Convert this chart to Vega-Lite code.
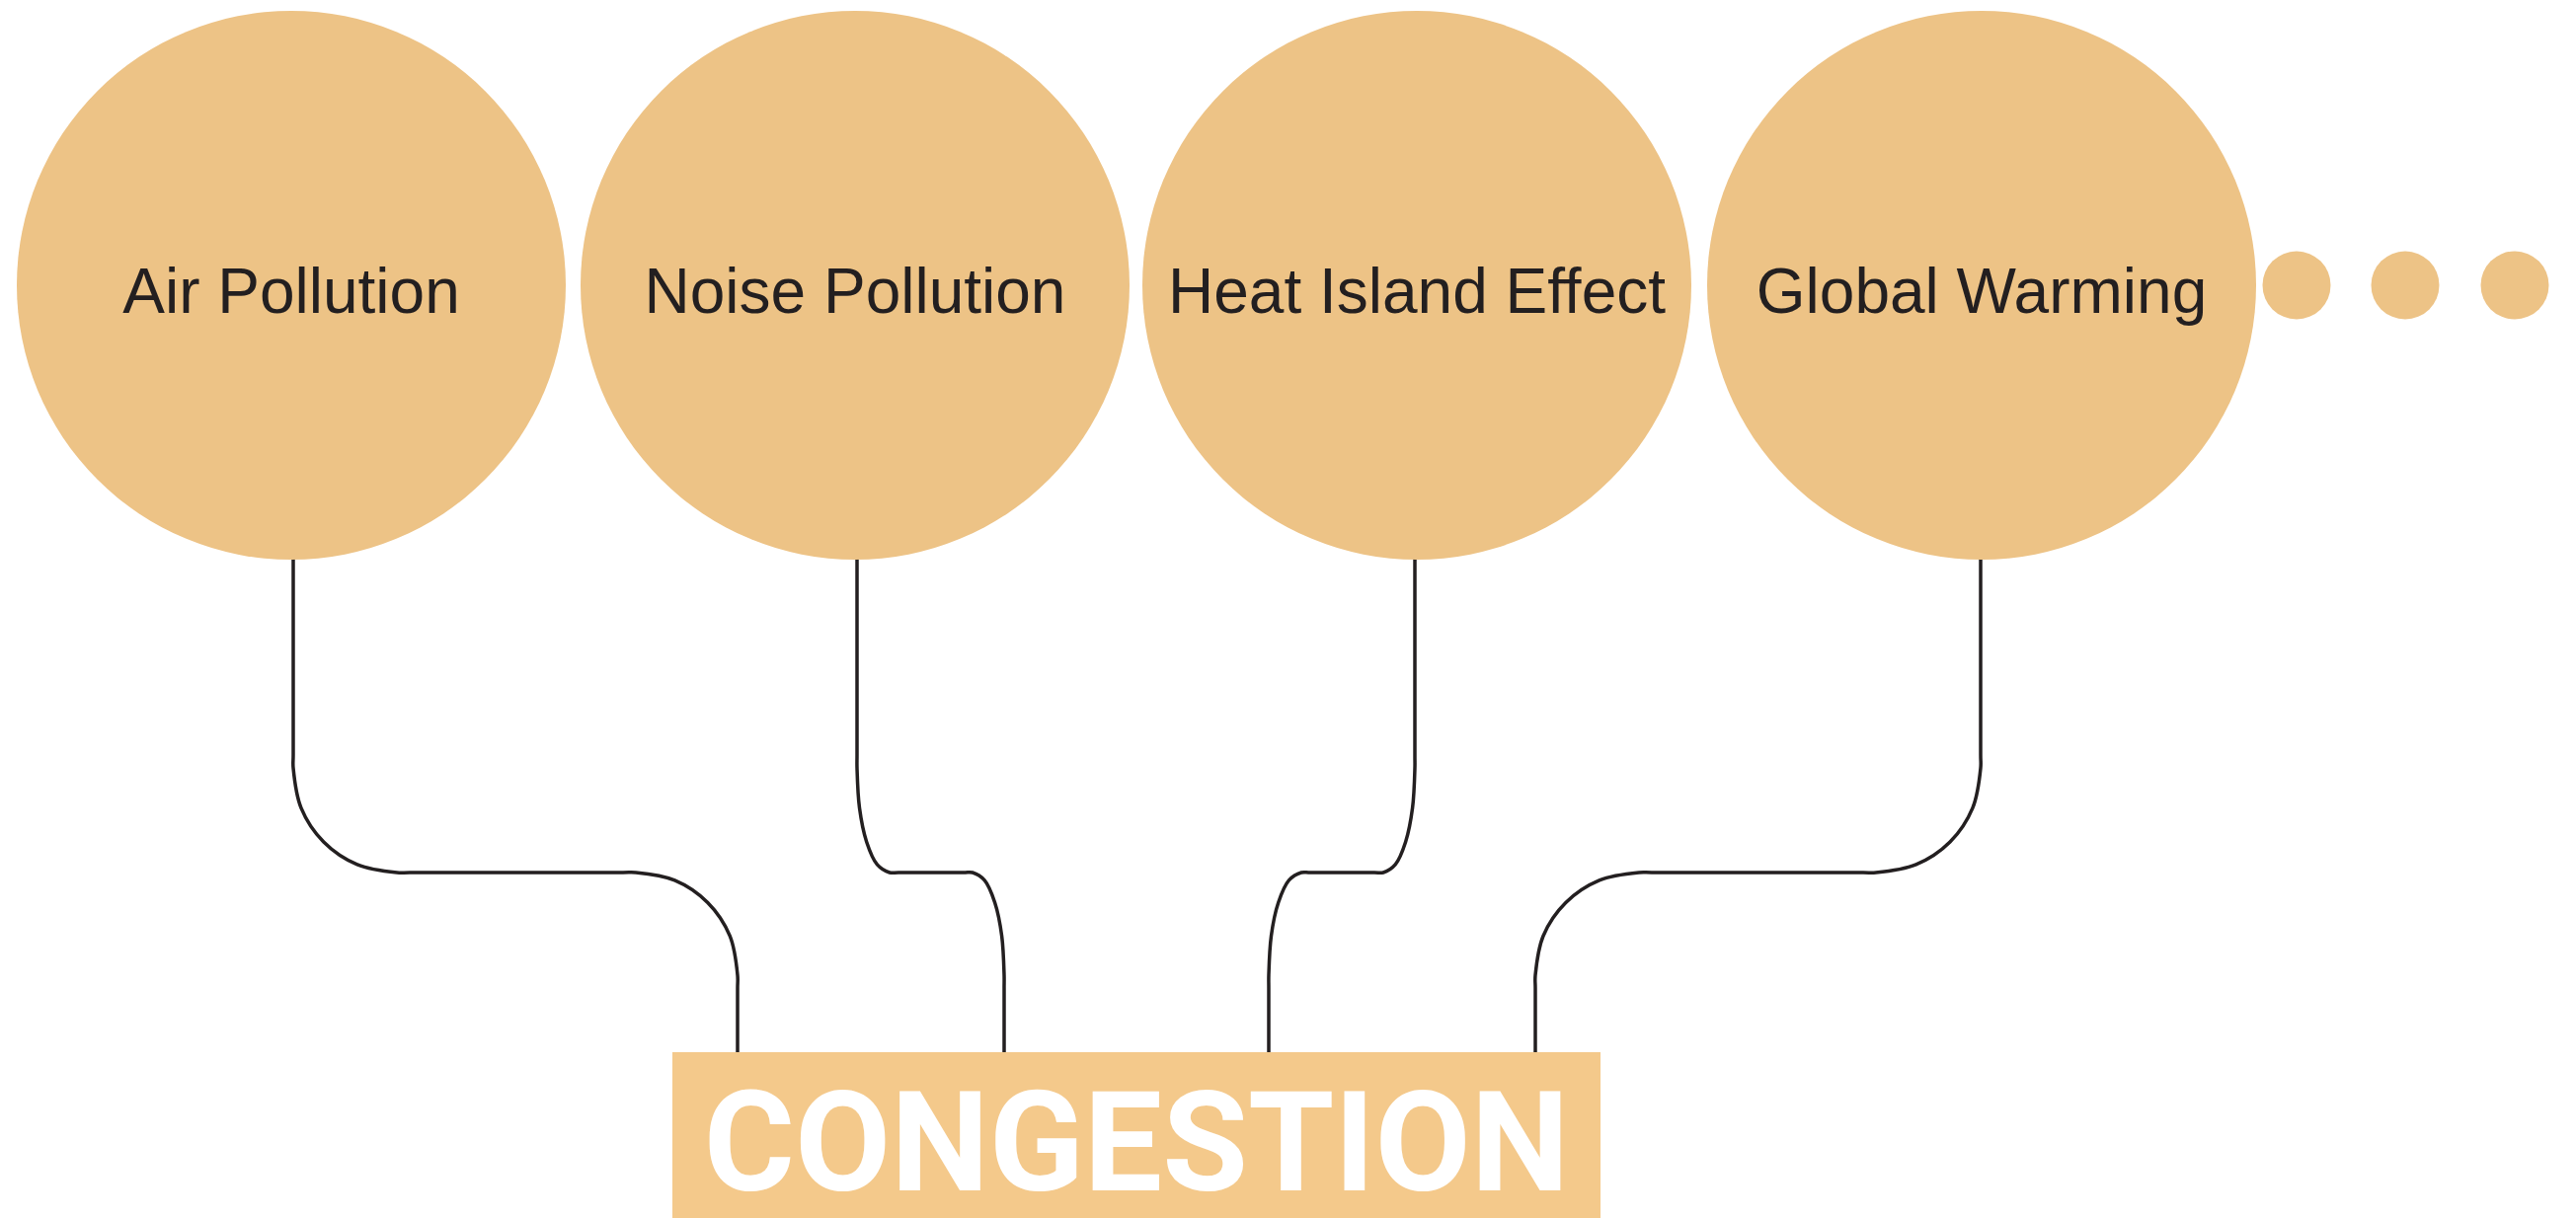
{
  "$schema": "https://vega.github.io/schema/vega-lite/v6.json",
  "width": 2609,
  "height": 1234,
  "autosize": {"type": "fit", "contains": "padding"},
  "padding": 0,
  "background": "white",
  "config": {"view": {"stroke": null}},
  "datasets": {
    "nodes": [
      {"name": "Air Pollution", "kind": "big", "x": 295, "y": 289},
      {"name": "Noise Pollution", "kind": "big", "x": 866, "y": 289},
      {"name": "Heat Island Effect", "kind": "big", "x": 1435, "y": 289},
      {"name": "Global Warming", "kind": "big", "x": 2007, "y": 289},
      {"name": "", "kind": "small", "x": 2326, "y": 289},
      {"name": "", "kind": "small", "x": 2436, "y": 289},
      {"name": "", "kind": "small", "x": 2547, "y": 289}
    ],
    "links": [
      {"c": "c1", "i": 1, "x": 297, "y": 560},
      {"c": "c1", "i": 2, "x": 297, "y": 765},
      {"c": "c1", "i": 3, "x": 297, "y": 778},
      {"c": "c1", "i": 4, "x": 305.0, "y": 818.6},
      {"c": "c1", "i": 5, "x": 327.8, "y": 853.0},
      {"c": "c1", "i": 6, "x": 361.8, "y": 875.9},
      {"c": "c1", "i": 7, "x": 402, "y": 884},
      {"c": "c1", "i": 8, "x": 415, "y": 884},
      {"c": "c1", "i": 9, "x": 631, "y": 884},
      {"c": "c1", "i": 10, "x": 644, "y": 884},
      {"c": "c1", "i": 11, "x": 683.4, "y": 891.9},
      {"c": "c1", "i": 12, "x": 716.8, "y": 914.5},
      {"c": "c1", "i": 13, "x": 739.2, "y": 948.2},
      {"c": "c1", "i": 14, "x": 747, "y": 988},
      {"c": "c1", "i": 15, "x": 747, "y": 1001},
      {"c": "c1", "i": 16, "x": 747, "y": 1072},

      {"c": "c2", "i": 1, "x": 868, "y": 560},
      {"c": "c2", "i": 2, "x": 868, "y": 765},
      {"c": "c2", "i": 3, "x": 868, "y": 778},
      {"c": "c2", "i": 4, "x": 870.5, "y": 818.6},
      {"c": "c2", "i": 5, "x": 877.7, "y": 853.0},
      {"c": "c2", "i": 6, "x": 888.4, "y": 875.9},
      {"c": "c2", "i": 7, "x": 901, "y": 884},
      {"c": "c2", "i": 8, "x": 910, "y": 884},
      {"c": "c2", "i": 9, "x": 976, "y": 884},
      {"c": "c2", "i": 10, "x": 985, "y": 884},
      {"c": "c2", "i": 11, "x": 997.2, "y": 891.9},
      {"c": "c2", "i": 12, "x": 1007.6, "y": 914.5},
      {"c": "c2", "i": 13, "x": 1014.6, "y": 948.2},
      {"c": "c2", "i": 14, "x": 1017, "y": 988},
      {"c": "c2", "i": 15, "x": 1017, "y": 1001},
      {"c": "c2", "i": 16, "x": 1017, "y": 1072},

      {"c": "c3", "i": 1, "x": 1433, "y": 560},
      {"c": "c3", "i": 2, "x": 1433, "y": 765},
      {"c": "c3", "i": 3, "x": 1433, "y": 778},
      {"c": "c3", "i": 4, "x": 1430.6, "y": 818.6},
      {"c": "c3", "i": 5, "x": 1423.6, "y": 853.0},
      {"c": "c3", "i": 6, "x": 1413.2, "y": 875.9},
      {"c": "c3", "i": 7, "x": 1401, "y": 884},
      {"c": "c3", "i": 8, "x": 1392, "y": 884},
      {"c": "c3", "i": 9, "x": 1327, "y": 884},
      {"c": "c3", "i": 10, "x": 1318, "y": 884},
      {"c": "c3", "i": 11, "x": 1305.4, "y": 891.9},
      {"c": "c3", "i": 12, "x": 1294.7, "y": 914.5},
      {"c": "c3", "i": 13, "x": 1287.5, "y": 948.2},
      {"c": "c3", "i": 14, "x": 1285, "y": 988},
      {"c": "c3", "i": 15, "x": 1285, "y": 1001},
      {"c": "c3", "i": 16, "x": 1285, "y": 1072},

      {"c": "c4", "i": 1, "x": 2006, "y": 560},
      {"c": "c4", "i": 2, "x": 2006, "y": 765},
      {"c": "c4", "i": 3, "x": 2006, "y": 778},
      {"c": "c4", "i": 4, "x": 1997.9, "y": 818.6},
      {"c": "c4", "i": 5, "x": 1975.0, "y": 853.0},
      {"c": "c4", "i": 6, "x": 1940.6, "y": 875.9},
      {"c": "c4", "i": 7, "x": 1900, "y": 884},
      {"c": "c4", "i": 8, "x": 1887, "y": 884},
      {"c": "c4", "i": 9, "x": 1673, "y": 884},
      {"c": "c4", "i": 10, "x": 1660, "y": 884},
      {"c": "c4", "i": 11, "x": 1619.8, "y": 891.9},
      {"c": "c4", "i": 12, "x": 1585.8, "y": 914.5},
      {"c": "c4", "i": 13, "x": 1563.0, "y": 948.2},
      {"c": "c4", "i": 14, "x": 1555, "y": 988},
      {"c": "c4", "i": 15, "x": 1555, "y": 1001},
      {"c": "c4", "i": 16, "x": 1555, "y": 1072}
    ],
    "box": [
      {"label": "CONGESTION", "x": 681, "x2": 1621, "y": 1066, "y2": 1234, "xc": 1151, "yb": 1206}
    ]
  },
  "layer": [
    {
      "data": {"name": "links"},
      "mark": {"type": "line", "interpolate": "catmull-rom", "stroke": "#231F20", "strokeWidth": 3.5},
      "encoding": {
        "x": {"field": "x", "type": "quantitative", "scale": {"domain": [0, 2609], "nice": false, "zero": false}, "axis": null},
        "y": {"field": "y", "type": "quantitative", "scale": {"domain": [0, 1234], "nice": false, "zero": false, "reverse": true}, "axis": null},
        "detail": {"field": "c", "type": "nominal"},
        "order": {"field": "i", "type": "quantitative"}
      }
    },
    {
      "data": {"name": "nodes"},
      "mark": {"type": "point", "shape": "circle", "filled": true, "opacity": 1, "strokeWidth": 0, "color": "#EDC386"},
      "encoding": {
        "x": {"field": "x", "type": "quantitative", "scale": {"domain": [0, 2609], "nice": false, "zero": false}, "axis": null},
        "y": {"field": "y", "type": "quantitative", "scale": {"domain": [0, 1234], "nice": false, "zero": false, "reverse": true}, "axis": null},
        "size": {"field": "kind", "type": "nominal", "scale": {"domain": ["big", "small"], "range": [309136, 4761]}, "legend": null}
      }
    },
    {
      "data": {"name": "nodes"},
      "mark": {"type": "text", "font": "Liberation Sans", "fontSize": 64, "color": "#231F20", "align": "center", "baseline": "alphabetic", "dy": 28},
      "encoding": {
        "x": {"field": "x", "type": "quantitative", "scale": {"domain": [0, 2609], "nice": false, "zero": false}, "axis": null},
        "y": {"field": "y", "type": "quantitative", "scale": {"domain": [0, 1234], "nice": false, "zero": false, "reverse": true}, "axis": null},
        "text": {"field": "name", "type": "nominal"}
      }
    },
    {
      "data": {"name": "box"},
      "mark": {"type": "rect", "color": "#F4C98B"},
      "encoding": {
        "x": {"field": "x", "type": "quantitative", "scale": {"domain": [0, 2609], "nice": false, "zero": false}, "axis": null},
        "x2": {"field": "x2"},
        "y": {"field": "y", "type": "quantitative", "scale": {"domain": [0, 1234], "nice": false, "zero": false, "reverse": true}, "axis": null},
        "y2": {"field": "y2"}
      }
    },
    {
      "data": {"name": "box"},
      "mark": {"type": "text", "font": "Roboto", "fontWeight": "bold", "fontSize": 141, "color": "white", "align": "center", "baseline": "alphabetic"},
      "encoding": {
        "x": {"field": "xc", "type": "quantitative", "scale": {"domain": [0, 2609], "nice": false, "zero": false}, "axis": null},
        "y": {"field": "yb", "type": "quantitative", "scale": {"domain": [0, 1234], "nice": false, "zero": false, "reverse": true}, "axis": null},
        "text": {"field": "label", "type": "nominal"}
      }
    }
  ]
}
